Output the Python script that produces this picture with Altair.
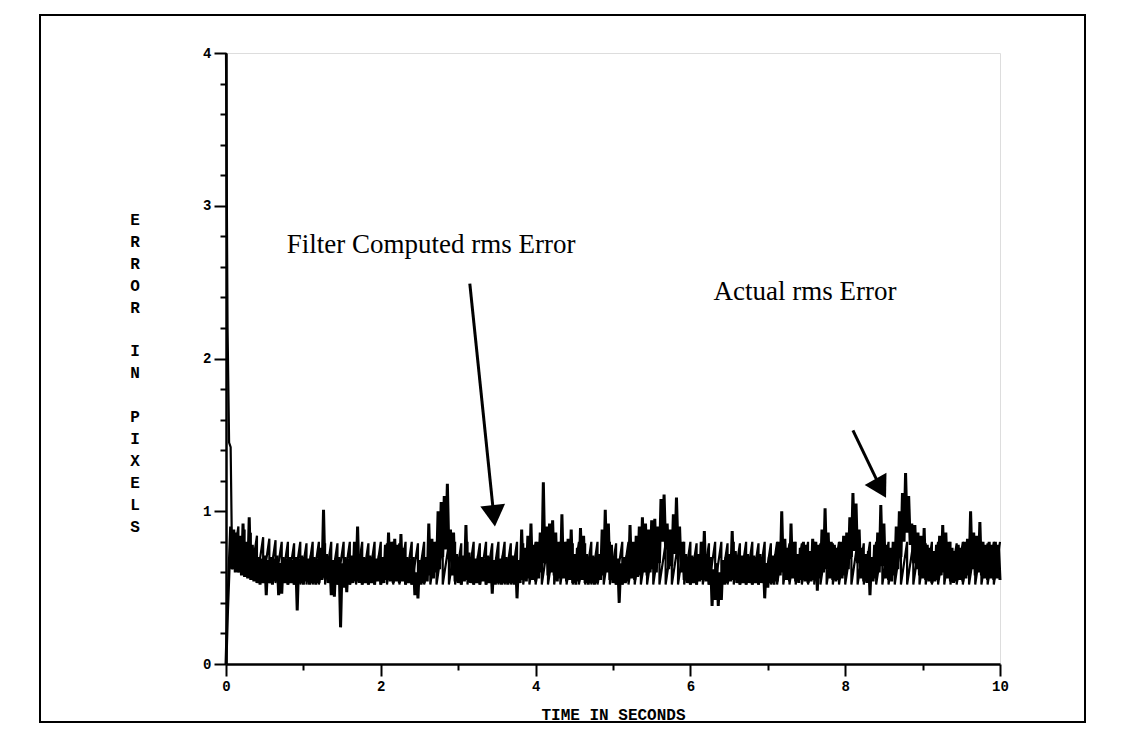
import altair as alt
import pandas as pd

# ---------------- data ----------------
# Actual rms error, sampled every 0.02 s from t = 0 (20 samples per row = 0.4 s)
SAMPLE_STEP = 0.02
actual_rows = [
    [0.00, 0.35, 0.62, 0.90, 0.62, 0.88, 0.60, 0.86, 0.60, 0.84, 0.58, 0.92, 0.57, 0.80, 0.56, 0.96, 0.55, 0.78, 0.54, 0.74],
    [0.53, 0.70, 0.52, 0.69, 0.53, 0.71, 0.45, 0.68, 0.53, 0.70, 0.52, 0.69, 0.54, 0.71, 0.45, 0.66, 0.46, 0.70, 0.53, 0.69],
    [0.52, 0.70, 0.53, 0.68, 0.52, 0.70, 0.35, 0.69, 0.53, 0.71, 0.52, 0.70, 0.54, 0.69, 0.52, 0.71, 0.53, 0.70, 0.52, 0.69],
    [0.53, 0.76, 0.55, 1.01, 0.56, 0.72, 0.53, 0.70, 0.45, 0.68, 0.44, 0.69, 0.52, 0.70, 0.24, 0.66, 0.50, 0.70, 0.47, 0.69],
    [0.52, 0.71, 0.53, 0.80, 0.54, 0.90, 0.53, 0.72, 0.52, 0.70, 0.53, 0.69, 0.52, 0.71, 0.53, 0.70, 0.52, 0.69, 0.54, 0.71],
    [0.52, 0.70, 0.53, 0.78, 0.55, 0.86, 0.54, 0.80, 0.53, 0.82, 0.54, 0.78, 0.53, 0.85, 0.54, 0.76, 0.52, 0.70, 0.53, 0.69],
    [0.52, 0.70, 0.45, 0.60, 0.43, 0.68, 0.52, 0.71, 0.53, 0.70, 0.54, 0.92, 0.58, 0.82, 0.56, 0.80, 0.60, 1.00, 0.62, 1.06],
    [0.70, 1.10, 0.75, 1.18, 0.72, 0.88, 0.58, 0.86, 0.54, 0.72, 0.53, 0.70, 0.52, 0.71, 0.54, 0.91, 0.55, 0.73, 0.53, 0.70],
    [0.52, 0.69, 0.53, 0.71, 0.52, 0.70, 0.54, 0.69, 0.52, 0.71, 0.53, 0.70, 0.46, 0.68, 0.52, 0.70, 0.53, 0.69, 0.52, 0.71],
    [0.53, 0.70, 0.52, 0.69, 0.53, 0.71, 0.52, 0.70, 0.43, 0.68, 0.53, 0.88, 0.55, 0.76, 0.54, 0.84, 0.56, 0.92, 0.55, 0.78],
    [0.54, 0.80, 0.56, 0.86, 0.60, 1.19, 0.66, 0.90, 0.58, 0.92, 0.60, 0.94, 0.58, 0.86, 0.54, 0.80, 0.56, 0.98, 0.56, 0.80],
    [0.54, 0.82, 0.55, 0.88, 0.53, 0.72, 0.52, 0.76, 0.54, 0.89, 0.55, 0.84, 0.53, 0.72, 0.52, 0.70, 0.53, 0.71, 0.52, 0.70],
    [0.53, 0.72, 0.55, 0.88, 0.58, 1.01, 0.60, 0.92, 0.55, 0.78, 0.53, 0.70, 0.52, 0.69, 0.40, 0.66, 0.52, 0.70, 0.53, 0.71],
    [0.54, 0.91, 0.56, 0.80, 0.55, 0.84, 0.57, 0.90, 0.58, 0.96, 0.60, 0.92, 0.58, 0.88, 0.60, 0.94, 0.62, 0.95, 0.60, 0.90],
    [0.66, 1.08, 0.80, 1.11, 0.75, 0.92, 0.62, 0.88, 0.64, 0.98, 0.72, 1.09, 0.74, 0.90, 0.60, 0.80, 0.55, 0.72, 0.53, 0.70],
    [0.52, 0.71, 0.53, 0.70, 0.52, 0.72, 0.54, 0.80, 0.55, 0.87, 0.54, 0.72, 0.52, 0.70, 0.38, 0.62, 0.42, 0.66, 0.38, 0.60],
    [0.42, 0.68, 0.52, 0.70, 0.53, 0.72, 0.54, 0.87, 0.55, 0.74, 0.53, 0.70, 0.52, 0.71, 0.53, 0.70, 0.52, 0.72, 0.53, 0.70],
    [0.52, 0.71, 0.53, 0.70, 0.52, 0.72, 0.53, 0.70, 0.43, 0.66, 0.50, 0.70, 0.53, 0.71, 0.52, 0.72, 0.54, 0.80, 0.58, 1.00],
    [0.60, 0.82, 0.55, 0.76, 0.54, 0.92, 0.56, 0.80, 0.54, 0.72, 0.53, 0.76, 0.55, 0.80, 0.54, 0.78, 0.53, 0.74, 0.54, 0.82],
    [0.55, 0.80, 0.48, 0.78, 0.56, 0.88, 0.60, 1.02, 0.62, 0.86, 0.56, 0.80, 0.55, 0.78, 0.54, 0.76, 0.55, 0.80, 0.56, 0.84],
    [0.58, 0.86, 0.62, 0.96, 0.70, 1.12, 0.74, 1.05, 0.66, 0.88, 0.56, 0.76, 0.54, 0.72, 0.53, 0.74, 0.45, 0.70, 0.54, 0.78],
    [0.56, 0.86, 0.60, 1.04, 0.64, 0.92, 0.56, 0.78, 0.55, 0.76, 0.54, 0.80, 0.58, 0.90, 0.62, 1.00, 0.70, 1.12, 0.80, 1.25],
    [0.86, 1.10, 0.78, 0.92, 0.66, 0.91, 0.62, 0.86, 0.58, 0.84, 0.56, 0.89, 0.55, 0.78, 0.54, 0.76, 0.53, 0.74, 0.54, 0.78],
    [0.55, 0.84, 0.58, 0.91, 0.60, 0.86, 0.56, 0.80, 0.54, 0.76, 0.53, 0.74, 0.54, 0.78, 0.55, 0.76, 0.54, 0.80, 0.56, 0.82],
    [0.58, 1.00, 0.62, 0.86, 0.58, 0.84, 0.60, 0.93, 0.58, 0.80, 0.56, 0.78, 0.55, 0.80, 0.56, 0.78, 0.55, 0.80, 0.56, 0.78, 0.55],
]

# Filter computed rms error: start-up transient, then one rise per update cycle
filter_start_time = [0.00, 0.02, 0.04, 0.06]
filter_start_value = [4.00, 2.20, 1.45, 1.42]
CYCLE = 0.08
CYCLE_START = 0.08
filter_low = [
    0.62, 0.60, 0.58, 0.56, 0.55, 0.54, 0.53, 0.53, 0.52, 0.52, 0.52, 0.52, 0.52, 0.52, 0.52, 0.52, 0.52, 0.52, 0.52, 0.52, 0.52, 0.52, 0.52, 0.52, 0.52, 0.52, 0.52, 0.52, 0.52, 0.52, 0.52,
    0.52, 0.52, 0.52, 0.52, 0.52, 0.52, 0.52, 0.52, 0.52, 0.52, 0.52, 0.52, 0.52, 0.52, 0.52, 0.52, 0.52, 0.52, 0.52, 0.52, 0.52, 0.52, 0.52, 0.52, 0.52, 0.52, 0.52, 0.52, 0.52, 0.52, 0.52,
    0.52, 0.52, 0.52, 0.52, 0.52, 0.52, 0.52, 0.52, 0.52, 0.52, 0.52, 0.52, 0.52, 0.52, 0.52, 0.52, 0.52, 0.52, 0.52, 0.52, 0.52, 0.52, 0.52, 0.52, 0.52, 0.52, 0.52, 0.52, 0.52, 0.52, 0.52,
    0.52, 0.52, 0.52, 0.52, 0.52, 0.52, 0.52, 0.52, 0.52, 0.52, 0.52, 0.52, 0.52, 0.52, 0.52, 0.52, 0.52, 0.52, 0.52, 0.52, 0.52, 0.52, 0.52, 0.52, 0.52, 0.52, 0.52, 0.52, 0.52, 0.52, 0.52,
]
filter_high = [
    0.90, 0.88, 0.86, 0.84, 0.83, 0.82, 0.81, 0.80, 0.80, 0.79, 0.80, 0.79, 0.80, 0.80, 0.79, 0.80, 0.79, 0.80, 0.80, 0.79, 0.80, 0.79, 0.80, 0.80, 0.79, 0.80, 0.79, 0.80, 0.80, 0.79, 0.80,
    0.79, 0.80, 0.80, 0.79, 0.80, 0.79, 0.80, 0.80, 0.79, 0.80, 0.79, 0.80, 0.80, 0.79, 0.80, 0.79, 0.80, 0.80, 0.79, 0.80, 0.79, 0.80, 0.80, 0.79, 0.80, 0.79, 0.80, 0.80, 0.79, 0.80, 0.79,
    0.80, 0.80, 0.79, 0.80, 0.79, 0.80, 0.80, 0.79, 0.80, 0.79, 0.80, 0.80, 0.79, 0.80, 0.79, 0.80, 0.80, 0.79, 0.80, 0.79, 0.80, 0.80, 0.79, 0.80, 0.79, 0.80, 0.80, 0.79, 0.80, 0.79, 0.80,
    0.80, 0.79, 0.80, 0.79, 0.80, 0.80, 0.79, 0.80, 0.79, 0.80, 0.80, 0.79, 0.80, 0.79, 0.80, 0.80, 0.79, 0.80, 0.79, 0.80, 0.80, 0.79, 0.80, 0.79, 0.80, 0.80, 0.79, 0.80, 0.79, 0.80, 0.80,
]

annotation_text = ["Filter Computed rms Error", "Actual rms Error"]
annotation_time = [2.65, 7.48]
annotation_value = [2.74, 2.435]

arrow_from_time = [3.15, 8.10]
arrow_from_value = [2.49, 1.53]
arrow_head_time = [3.46, 8.46]
arrow_head_value = [0.97, 1.15]
arrow_head_angle = [174, 151]

x_ticks = list(range(0, 11))
y_ticks = [i / 5 for i in range(0, 21)]

# y-axis title written as a column of upright letters
y_title_text = "ERROR IN PIXELS"

# ---------------- tables ----------------
actual_values = [v for row in actual_rows for v in row]
actual_df = pd.DataFrame({
    "t": [round(i * SAMPLE_STEP, 4) for i in range(len(actual_values))],
    "v": actual_values,
    "i": list(range(len(actual_values))),
})

ft, fv = list(filter_start_time), list(filter_start_value)
for k, (lo, hi) in enumerate(zip(filter_low, filter_high)):
    t0 = CYCLE_START + k * CYCLE
    ft += [t0, t0 + CYCLE]
    fv += [lo, hi]
filter_df = pd.DataFrame({"t": ft, "v": fv, "i": list(range(len(ft)))})

ann_df = pd.DataFrame({"t": annotation_time, "v": annotation_value, "label": annotation_text})
arrow_df = pd.DataFrame({
    "t": arrow_from_time, "v": arrow_from_value,
    "t2": arrow_head_time, "v2": arrow_head_value, "angle": arrow_head_angle,
})
letters_df = pd.DataFrame({
    "letter": list(y_title_text),
    "row": list(range(len(y_title_text))),
})

FONT = "Liberation Mono"
SERIF = "Liberation Serif"
LETTER_TOP = 167      # pixel centre of first letter, from plot top
LETTER_STEP = 21.9    # pixel spacing of the letter column

x_scale = alt.Scale(domain=[0, 10], nice=False, zero=False)
y_scale = alt.Scale(domain=[0, 4], nice=False, zero=True)

x_axis = alt.Axis(
    values=x_ticks, tickCount=11, format="d", labelFlush=False,
    tickSize={"condition": {"test": "datum.value % 2 === 0", "value": 12}, "value": 6},
    labelExpr="datum.value % 2 === 0 ? datum.label : ''",
    title="TIME IN SECONDS",
    titleFont=FONT, titleFontSize=16, titleFontWeight="bold", titleColor="black",
    titleY=50, titleBaseline="middle",
    labelFont=FONT, labelFontSize=14, labelFontWeight="bold", labelColor="black",
    labelPadding=3, grid=False,
    domainColor="black", domainWidth=2.5, tickColor="black", tickWidth=2,
)
y_axis = alt.Axis(
    values=y_ticks, tickCount=21, labelFlush=False,
    tickSize={"condition": {"test": "abs(datum.value - round(datum.value)) < 0.001", "value": 12}, "value": 6},
    labelExpr="abs(datum.value - round(datum.value)) < 0.001 ? format(datum.value, 'd') : ''",
    title=None,
    labelFont=FONT, labelFontSize=14, labelFontWeight="bold", labelColor="black",
    labelPadding=3, grid=False,
    domainColor="black", domainWidth=2.5, tickColor="black", tickWidth=2,
)

filter_line = alt.Chart(filter_df).mark_line(color="black", strokeWidth=2.2).encode(
    x=alt.X("t:Q", scale=x_scale, axis=x_axis),
    y=alt.Y("v:Q", scale=y_scale, axis=y_axis),
    order="i:Q",
)
actual_line = alt.Chart(actual_df).mark_line(color="black", strokeWidth=3.0).encode(
    x=alt.X("t:Q", scale=x_scale),
    y=alt.Y("v:Q", scale=y_scale),
    order="i:Q",
)
labels = alt.Chart(ann_df).mark_text(
    font=SERIF, fontSize=27, color="black", align="center", baseline="middle"
).encode(x=alt.X("t:Q", scale=x_scale), y=alt.Y("v:Q", scale=y_scale), text="label:N")
arrow_shafts = alt.Chart(arrow_df).mark_rule(color="black", strokeWidth=3).encode(
    x=alt.X("t:Q", scale=x_scale), y=alt.Y("v:Q", scale=y_scale),
    x2="t2:Q", y2="v2:Q",
)
arrow_heads = alt.Chart(arrow_df).mark_point(
    shape="triangle-up", filled=True, color="black", size=620, opacity=1
).encode(
    x=alt.X("t2:Q", scale=x_scale), y=alt.Y("v2:Q", scale=y_scale),
    angle=alt.Angle("angle:Q", scale=None),
)
y_title = alt.Chart(letters_df).transform_calculate(
    py=f"{LETTER_TOP} + datum.row * {LETTER_STEP}"
).mark_text(
    font=FONT, fontSize=16, fontWeight="bold", color="black", align="center", baseline="middle"
).encode(
    x=alt.value(-91), y=alt.Y("py:Q", scale=None, axis=None), text="letter:N",
)
frame = alt.Chart(pd.DataFrame({"a": [0]})).mark_rect(
    fillOpacity=0, stroke="black", strokeWidth=2
).encode(
    x=alt.value(-186), x2=alt.value(859), y=alt.value(-38), y2=alt.value(669),
)

chart = alt.layer(
    frame, filter_line, actual_line, labels, arrow_shafts, arrow_heads, y_title
).properties(
    width=774, height=611,
    padding={"left": 218, "top": 45, "right": 100, "bottom": 70},
    autosize=alt.AutoSizeParams(type="none"),
).configure_view(
    stroke="black", strokeWidth=2
).configure(background="white")

chart.save("out.html", embed_options={"renderer": "svg", "actions": False})
